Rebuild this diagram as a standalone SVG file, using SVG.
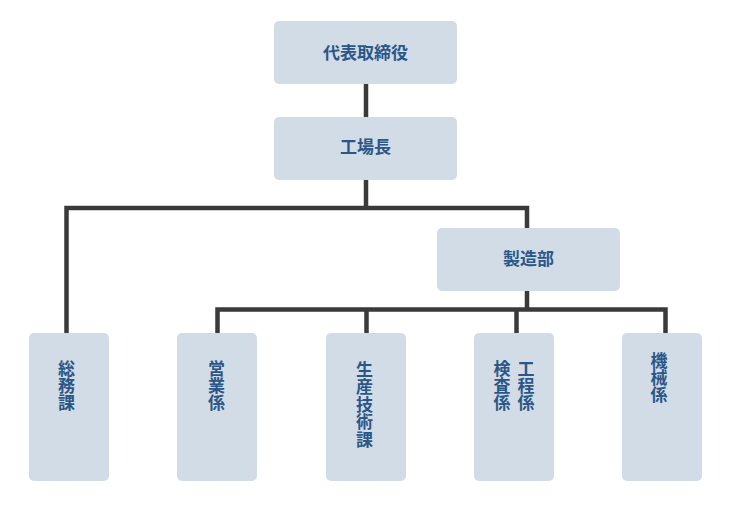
<svg xmlns="http://www.w3.org/2000/svg" width="730" height="508" viewBox="0 0 730 508">
<style>
.box{fill:#d2dce7;}
.t{font-family:"Noto Sans CJK JP","Noto Sans",sans-serif;font-weight:700;font-size:17px;fill:#2c5687;text-anchor:middle;}
.v{font-family:"Noto Sans CJK JP","Noto Sans",sans-serif;font-weight:700;font-size:17px;fill:#2c5687;writing-mode:vertical-rl;text-anchor:start;}
.ln{fill:none;stroke:#3a3a3a;stroke-width:4.5;stroke-linecap:butt;stroke-linejoin:miter;}
</style>
<rect width="730" height="508" fill="#ffffff"/>
<g id="connectors">
<path class="ln" d="M366,84 V117"/>
<path class="ln" d="M366,180 V208"/>
<path class="ln" d="M66.5,333 V208 H527 V228"/>
<path class="ln" d="M527,291 V309.5"/>
<path class="ln" d="M217.5,333 V309.5 H665.5 V333"/>
<path class="ln" d="M366.5,309.5 V333"/>
<path class="ln" d="M516.5,309.5 V333"/>
</g>
<g id="n-ceo">
<rect class="box" x="274" y="21" width="183" height="63" rx="5"/>
<text class="t" x="365.5" y="59">代表取締役</text>
</g>
<g id="n-factory">
<rect class="box" x="274" y="117" width="183" height="63" rx="5"/>
<text class="t" x="365.5" y="153">工場長</text>
</g>
<g id="n-mfg">
<rect class="box" x="437" y="228" width="183" height="63" rx="5"/>
<text class="t" x="528.5" y="265">製造部</text>
</g>
<g id="n-general">
<rect class="box" x="29" y="333" width="80" height="148" rx="5"/>
<text class="v" x="66.5" y="360">総務課</text>
</g>
<g id="n-sales">
<rect class="box" x="177" y="333" width="80" height="148" rx="5"/>
<text class="v" x="216.5" y="360">営業係</text>
</g>
<g id="n-prodtech">
<rect class="box" x="326" y="333" width="80" height="148" rx="5"/>
<text class="v" x="364.5" y="361" letter-spacing="0.4">生産技術課</text>
</g>
<g id="n-process-inspect">
<rect class="box" x="474" y="333" width="80" height="148" rx="5"/>
<text class="v" x="526" y="360">工程係</text>
<text class="v" x="502" y="360">検査係</text>
</g>
<g id="n-machine">
<rect class="box" x="622" y="333" width="80" height="148" rx="5"/>
<text class="v" x="659" y="352">機械係</text>
</g>
</svg>
